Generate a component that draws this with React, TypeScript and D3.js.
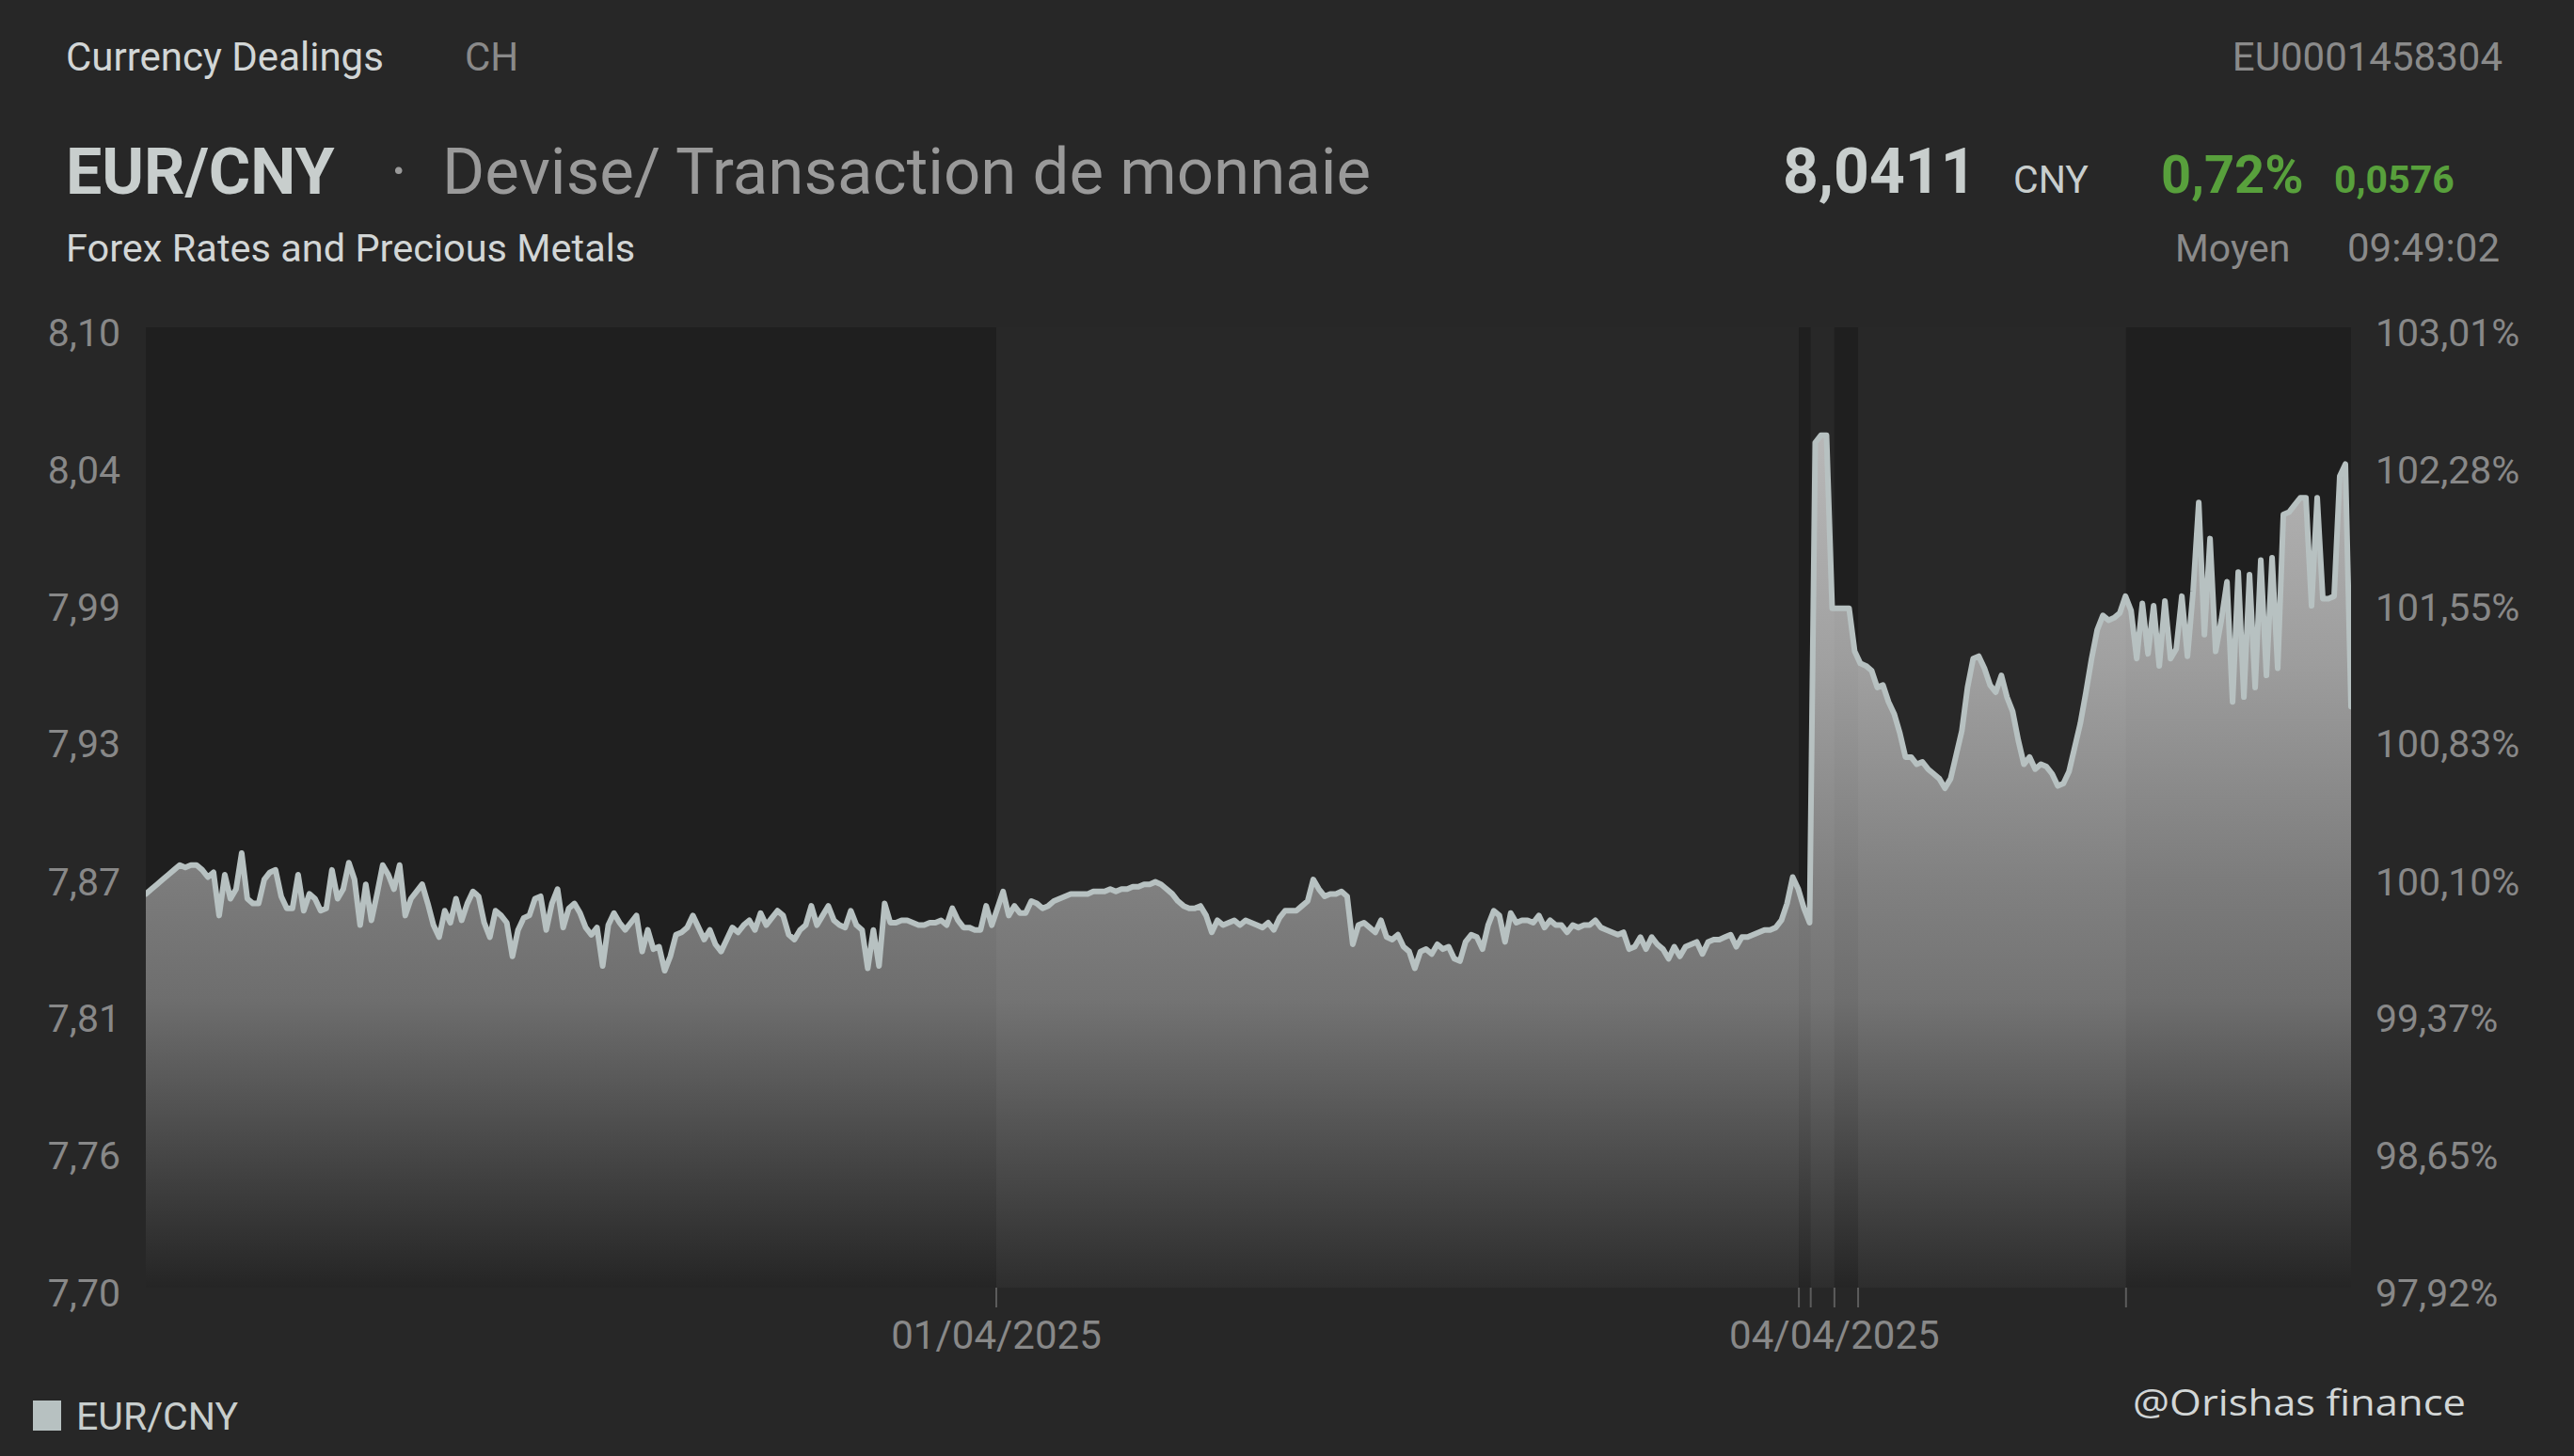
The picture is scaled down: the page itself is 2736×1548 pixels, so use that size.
import React from "react";
import * as d3 from "d3";

const W = 2736;
const H = 1548;

// EUR/CNY rate (even spacing along the session axis)
const rates: number[] = [
  7.864, 7.866, 7.868, 7.870, 7.872, 7.874, 7.876, 7.875, 7.876, 7.876,
  7.874, 7.871, 7.873, 7.855, 7.872, 7.862, 7.866, 7.881, 7.862, 7.860,
  7.860, 7.870, 7.873, 7.874, 7.863, 7.858, 7.858, 7.872, 7.857, 7.864,
  7.862, 7.857, 7.858, 7.874, 7.862, 7.866, 7.877, 7.870, 7.851, 7.868,
  7.853, 7.864, 7.876, 7.872, 7.866, 7.876, 7.855, 7.862, 7.865, 7.868,
  7.860, 7.851, 7.846, 7.857, 7.852, 7.862, 7.853, 7.860, 7.865, 7.863,
  7.852, 7.846, 7.857, 7.855, 7.852, 7.838, 7.849, 7.854, 7.855, 7.862,
  7.863, 7.849, 7.860, 7.866, 7.850, 7.858, 7.860, 7.856, 7.850, 7.847,
  7.850, 7.834, 7.851, 7.856, 7.852, 7.849, 7.852, 7.855, 7.840, 7.849,
  7.841, 7.842, 7.832, 7.838, 7.847, 7.848, 7.850, 7.855, 7.850, 7.845,
  7.849, 7.843, 7.840, 7.845, 7.850, 7.848, 7.851, 7.853, 7.849, 7.856,
  7.851, 7.854, 7.857, 7.855, 7.847, 7.845, 7.849, 7.851, 7.859, 7.851,
  7.855, 7.859, 7.853, 7.851, 7.850, 7.857, 7.851, 7.849, 7.833, 7.849,
  7.834, 7.860, 7.852, 7.852, 7.853, 7.853, 7.852, 7.851, 7.851, 7.852,
  7.852, 7.853, 7.851, 7.858, 7.853, 7.850, 7.850, 7.849, 7.849, 7.859,
  7.851, 7.858, 7.865, 7.855, 7.859, 7.856, 7.856, 7.861, 7.860, 7.858,
  7.859, 7.861, 7.862, 7.863, 7.864, 7.864, 7.864, 7.864, 7.865, 7.865,
  7.865, 7.866, 7.865, 7.866, 7.866, 7.867, 7.867, 7.868, 7.868, 7.869,
  7.868, 7.866, 7.864, 7.861, 7.859, 7.858, 7.858, 7.859, 7.855, 7.848,
  7.853, 7.851, 7.852, 7.853, 7.851, 7.853, 7.852, 7.851, 7.850, 7.852,
  7.849, 7.854, 7.857, 7.857, 7.857, 7.859, 7.861, 7.870, 7.866, 7.863,
  7.864, 7.864, 7.865, 7.863, 7.843, 7.851, 7.852, 7.850, 7.848, 7.853,
  7.846, 7.845, 7.847, 7.842, 7.840, 7.833, 7.840, 7.841, 7.839, 7.843,
  7.841, 7.842, 7.837, 7.836, 7.844, 7.847, 7.846, 7.841, 7.851, 7.857,
  7.855, 7.844, 7.856, 7.852, 7.853, 7.853, 7.852, 7.855, 7.850, 7.853,
  7.851, 7.851, 7.848, 7.851, 7.850, 7.851, 7.851, 7.853, 7.850, 7.849,
  7.848, 7.847, 7.848, 7.841, 7.842, 7.846, 7.841, 7.846, 7.843, 7.841,
  7.837, 7.842, 7.838, 7.842, 7.843, 7.844, 7.839, 7.844, 7.845, 7.845,
  7.846, 7.847, 7.842, 7.846, 7.846, 7.847, 7.848, 7.849, 7.849, 7.850,
  7.853, 7.860, 7.871, 7.866, 7.858, 7.852, 8.052, 8.055, 8.055, 7.983,
  7.983, 7.983, 7.983, 7.965, 7.960, 7.959, 7.957, 7.950, 7.951, 7.944,
  7.939, 7.931, 7.921, 7.921, 7.918, 7.919, 7.916, 7.914, 7.912, 7.908,
  7.912, 7.922, 7.932, 7.950, 7.962, 7.963, 7.958, 7.951, 7.948, 7.955,
  7.946, 7.940, 7.928, 7.918, 7.921, 7.916, 7.918, 7.917, 7.914, 7.909,
  7.910, 7.915, 7.925, 7.935, 7.948, 7.962, 7.974, 7.980, 7.978, 7.979,
  7.981, 7.988, 7.982, 7.962, 7.985, 7.964, 7.984, 7.959, 7.986, 7.962,
  7.966, 7.988, 7.963, 7.990, 8.027, 7.972, 8.012, 7.965, 7.978, 7.994,
  7.944, 7.998, 7.946, 7.997, 7.950, 8.003, 7.955, 8.004, 7.958, 8.022,
  8.023, 8.026, 8.029, 8.029, 7.984, 8.029, 7.987, 7.987, 7.988, 8.038,
  8.043, 7.942,
];

const yDomain = [7.7, 8.1];
const leftTickValues = [7.7, 7.7571, 7.8143, 7.8714, 7.9286, 7.9857, 8.0429, 8.1];
const leftTickLabels = ["7,70", "7,76", "7,81", "7,87", "7,93", "7,99", "8,04", "8,10"];
const rightTickLabels = ["97,92%", "98,65%", "99,37%", "100,10%", "100,83%", "101,55%", "102,28%", "103,01%"];

// session boundaries (in sample index units) and their shading
const sessionBounds = [0, 150.8, 293.1, 295.2, 299.4, 303.6, 351.1, 391];
const sessionShade = ["dark", "light", "dark", "light", "dark", "light", "dark"];
const xTickIndices = [150.8, 293.1, 295.2, 299.4, 303.6, 351.1];
const xTickLabels = ["01/04/2025", "", "", "04/04/2025", "", ""];

const FONT = "Roboto, 'Noto Sans', sans-serif";

export default function App() {
  const plot = { left: 155, right: 2499, top: 348, bottom: 1369 };
  const x = d3.scaleLinear().domain([0, rates.length - 1]).range([plot.left, plot.right]);
  const y = d3.scaleLinear().domain(yDomain).range([plot.bottom, plot.top]);

  const line = d3.line<number>().x((_, i) => x(i)).y((d) => y(d));
  const area = d3
    .area<number>()
    .x((_, i) => x(i))
    .y0(plot.bottom)
    .y1((d) => y(d));

  const shadeColor: Record<string, string> = { dark: "#1f1f1f", light: "#282828" };

  return (
    <svg
      width={W}
      height={H}
      viewBox={`0 0 ${W} ${H}`}
      style={{ position: "absolute", left: 0, top: 0, display: "block" }}
    >
      <defs>
        <linearGradient id="areaGrad" gradientUnits="userSpaceOnUse" x1="0" x2="0" y1={plot.top} y2={plot.bottom}>
          <stop offset="0" stopColor="#e4e4e4" stopOpacity="0.82" />
          <stop offset="0.35" stopColor="#e4e4e4" stopOpacity="0.64" />
          <stop offset="0.58" stopColor="#e4e4e4" stopOpacity="0.47" />
          <stop offset="0.7" stopColor="#e4e4e4" stopOpacity="0.4" />
          <stop offset="0.86" stopColor="#e4e4e4" stopOpacity="0.2" />
          <stop offset="1" stopColor="#e4e4e4" stopOpacity="0.03" />
        </linearGradient>
        <clipPath id="plotClip">
          <rect x={plot.left} y={plot.top - 10} width={plot.right - plot.left} height={plot.bottom - plot.top + 10} />
        </clipPath>
      </defs>

      <rect x={0} y={0} width={W} height={H} fill="#272727" />

      {/* header */}
      <g fontFamily={FONT}>
        <text x={70} y={75} fontSize={42} fill="#d2d6d6">Currency Dealings</text>
        <text x={494} y={75} fontSize={42} fill="#8a8a8a">CH</text>
        <text x={2660} y={75} fontSize={42} fill="#8a8a8a" textAnchor="end">EU0001458304</text>

        <text x={70} y={206} fontSize={68} fontWeight={700} fill="#c8cecd">EUR/CNY</text>
        <text x={424} y={206} fontSize={68} fill="#9a9a9a" textAnchor="middle">·</text>
        <text x={470} y={206} fontSize={69} fill="#9a9a9a">Devise/ Transaction de monnaie</text>

        <text x={1895} y={205} fontSize={66} fontWeight={700} fill="#c8cecd">8,0411</text>
        <text x={2140} y={205} fontSize={41} fill="#c8cecd">CNY</text>
        <text x={2297} y={205} fontSize={56} fontWeight={700} fill="#58a03c">0,72%</text>
        <text x={2481} y={205} fontSize={41} fontWeight={700} fill="#58a03c">0,0576</text>

        <text x={70} y={278} fontSize={41.5} fill="#d2d6d6">Forex Rates and Precious Metals</text>
        <text x={2312} y={278} fontSize={41} fill="#8a8a8a">Moyen</text>
        <text x={2657} y={278} fontSize={42} fill="#8a8a8a" textAnchor="end">09:49:02</text>
      </g>

      {/* session shading */}
      {sessionShade.map((s, k) => (
        <rect
          key={k}
          x={x(sessionBounds[k])}
          y={plot.top}
          width={x(sessionBounds[k + 1]) - x(sessionBounds[k])}
          height={plot.bottom - plot.top}
          fill={shadeColor[s]}
        />
      ))}

      {/* area + line */}
      <g clipPath="url(#plotClip)">
        <path d={area(rates) ?? ""} fill="url(#areaGrad)" />
        <path
          d={line(rates) ?? ""}
          fill="none"
          stroke="#b7c1c1"
          strokeWidth={6}
          strokeLinejoin="round"
          strokeLinecap="round"
        />
      </g>

      {/* y axes */}
      <g fontFamily={FONT} fontSize={41} fill="#888888">
        {leftTickValues.map((v, k) => (
          <text key={"l" + k} x={128} y={y(v) + 20} textAnchor="end">
            {leftTickLabels[k]}
          </text>
        ))}
        {leftTickValues.map((v, k) => (
          <text key={"r" + k} x={2525} y={y(v) + 20} textAnchor="start">
            {rightTickLabels[k]}
          </text>
        ))}
      </g>

      {/* x axis */}
      <g fontFamily={FONT} fontSize={42} fill="#888888">
        {xTickIndices.map((t, k) => (
          <g key={k}>
            <line x1={x(t)} x2={x(t)} y1={plot.bottom} y2={plot.bottom + 21} stroke="#5c5c5c" strokeWidth={2} />
            {xTickLabels[k] && (
              <text x={x(t)} y={1434} textAnchor="middle">
                {xTickLabels[k]}
              </text>
            )}
          </g>
        ))}
      </g>

      {/* legend */}
      <rect x={35} y={1489} width={30} height={32} fill="#b7c1c1" />
      <text x={81} y={1520} fontFamily={FONT} fontSize={41} fill="#c8cecd">EUR/CNY</text>

      {/* watermark */}
      <text
        x={2267}
        y={1505}
        fontFamily="'Open Sans', 'Noto Sans', sans-serif"
        fontSize={38}
        fill="#d2d6d6"
        textLength={354}
        lengthAdjust="spacingAndGlyphs"
      >
        @Orishas finance
      </text>
    </svg>
  );
}
